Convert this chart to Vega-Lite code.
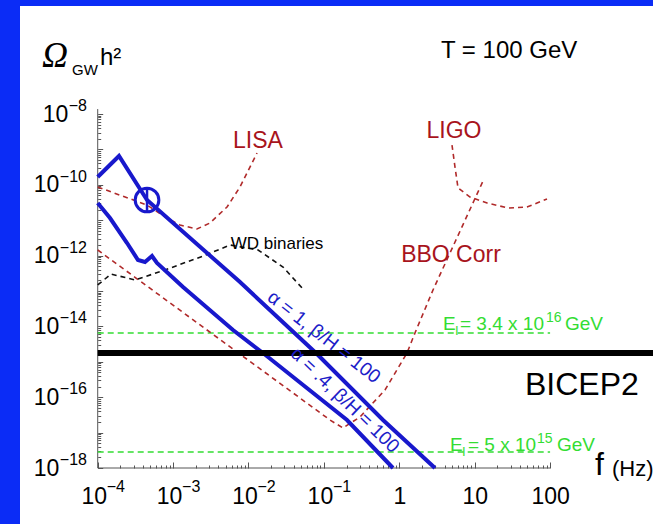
{
  "$schema": "https://vega.github.io/schema/vega-lite/v6.json",
  "width": 633,
  "height": 518,
  "autosize": {"type": "none"},
  "padding": {"left": 20, "top": 6, "right": 0, "bottom": 0},
  "background": "#0b2cf6",
  "config": {"view": {"fill": "white", "stroke": null}},
  "datasets": {
    "axislines": [
      {"f": 0.0001, "f2": 100, "om": 1e-18, "om2": 1e-18},
      {"f": 0.0001, "f2": 0.0001, "om": 1e-18, "om2": 1.38e-8}
    ],
    "exponents": [
      {"ax": "x", "f": 0.0001, "om": 1e-18, "text": "−4"},
      {"ax": "x", "f": 0.001, "om": 1e-18, "text": "−3"},
      {"ax": "x", "f": 0.01, "om": 1e-18, "text": "−2"},
      {"ax": "x", "f": 0.1, "om": 1e-18, "text": "−1"},
      {"ax": "y", "f": 0.0001, "om": 1e-8, "text": "−8"},
      {"ax": "y", "f": 0.0001, "om": 1e-10, "text": "−10"},
      {"ax": "y", "f": 0.0001, "om": 1e-12, "text": "−12"},
      {"ax": "y", "f": 0.0001, "om": 1e-14, "text": "−14"},
      {"ax": "y", "f": 0.0001, "om": 1e-16, "text": "−16"},
      {"ax": "y", "f": 0.0001, "om": 1e-18, "text": "−18"}
    ],
    "hlines": [
      {"kind": "E1", "f": 0.0001, "f2": 100, "om": 6.52e-15},
      {"kind": "E2", "f": 0.0001, "f2": 100, "om": 2.83e-18},
      {"kind": "BICEP2", "f": 0.0001, "f2": 10000, "om": 1.77e-15}
    ],
    "curves": [
      {"series": "a1", "f": 0.0001, "om": 1.66e-10},
      {"series": "a1", "f": 0.0001916, "om": 6.52e-10},
      {"series": "a1", "f": 0.000451, "om": 3.72e-11},
      {"series": "a1", "f": 0.00771, "om": 1.79e-13},
      {"series": "a1", "f": 0.081, "om": 1.66e-15},
      {"series": "a1", "f": 0.608, "om": 2.27e-17},
      {"series": "a1", "f": 2.97, "om": 1e-18},
      {"series": "a04", "f": 0.0001, "om": 3.06e-11},
      {"series": "a04", "f": 0.0001456, "om": 1.15e-11},
      {"series": "a04", "f": 0.000245, "om": 2.27e-12},
      {"series": "a04", "f": 0.000342, "om": 7.52e-13},
      {"series": "a04", "f": 0.000424, "om": 6.59e-13},
      {"series": "a04", "f": 0.000525, "om": 9.75e-13},
      {"series": "a04", "f": 0.000611, "om": 6.18e-13},
      {"series": "a04", "f": 0.001353, "om": 1.3e-13},
      {"series": "a04", "f": 0.00623, "om": 7.91e-15},
      {"series": "a04", "f": 0.01555, "om": 1.77e-15},
      {"series": "a04", "f": 0.2024, "om": 2.27e-17},
      {"series": "a04", "f": 0.824, "om": 1e-18},
      {"series": "LISA", "f": 0.0001, "om": 8.67e-11},
      {"series": "LISA", "f": 0.000451, "om": 2.69e-11},
      {"series": "LISA", "f": 0.00083, "om": 1.15e-11},
      {"series": "LISA", "f": 0.001235, "om": 7.31e-12},
      {"series": "LISA", "f": 0.00207, "om": 5.64e-12},
      {"series": "LISA", "f": 0.00308, "om": 8.34e-12},
      {"series": "LISA", "f": 0.00519, "om": 2.36e-11},
      {"series": "LISA", "f": 0.00771, "om": 8.67e-11},
      {"series": "LISA", "f": 0.01297, "om": 7.91e-10},
      {"series": "BBO", "f": 0.0001, "om": 1.44e-12},
      {"series": "BBO", "f": 0.1205, "om": 2.27e-17},
      {"series": "BBO", "f": 0.179, "om": 1.35e-17},
      {"series": "BBO", "f": 0.301, "om": 2.76e-17},
      {"series": "BBO", "f": 0.646, "om": 1.6e-16},
      {"series": "BBO", "f": 1.265, "om": 1.77e-15},
      {"series": "BBO", "f": 1.614, "om": 6.52e-15},
      {"series": "BBO", "f": 2.8, "om": 1.07e-13},
      {"series": "BBO", "f": 12.9, "om": 1.28e-10},
      {"series": "LIGO", "f": 5.0, "om": 1.33e-9},
      {"series": "LIGO", "f": 5.48, "om": 3.18e-10},
      {"series": "LIGO", "f": 6.01, "om": 8.13e-11},
      {"series": "LIGO", "f": 8.67, "om": 4.52e-11},
      {"series": "LIGO", "f": 14.6, "om": 3.06e-11},
      {"series": "LIGO", "f": 27.7, "om": 2.21e-11},
      {"series": "LIGO", "f": 49.4, "om": 2.36e-11},
      {"series": "LIGO", "f": 91.0, "om": 3.97e-11},
      {"series": "WD", "f": 0.0001, "om": 1.48e-13},
      {"series": "WD", "f": 0.00015, "om": 3.02e-13},
      {"series": "WD", "f": 0.000313, "om": 2.05e-13},
      {"series": "WD", "f": 0.000782, "om": 3.92e-13},
      {"series": "WD", "f": 0.0025, "om": 9.75e-13},
      {"series": "WD", "f": 0.00569, "om": 1.99e-12},
      {"series": "WD", "f": 0.0134, "om": 1.44e-12},
      {"series": "WD", "f": 0.0287, "om": 4.76e-13},
      {"series": "WD", "f": 0.0513, "om": 1.22e-13}
    ],
    "marker": [{"f": 0.000451, "om": 3.72e-11}],
    "notes": [
      {"id": "Omega", "text": "Ω", "f": 1.825e-5, "om": 2.13e-7},
      {"id": "GW", "text": "GW", "f": 4.56e-5, "om": 1.265e-7},
      {"id": "h2", "text": "h²", "f": 0.0001073, "om": 2.42e-7},
      {"id": "T", "text": "T = 100 GeV", "f": 3.57, "om": 3.82e-7},
      {"id": "det", "text": "LISA", "f": 0.01336, "om": 1.73e-9},
      {"id": "det", "text": "LIGO", "f": 5.32, "om": 3.31e-9},
      {"id": "det", "text": "BBO Corr", "f": 4.85, "om": 1.04e-12},
      {"id": "wd", "text": "WD binaries", "f": 0.0239, "om": 2.13e-12},
      {"id": "bicep", "text": "BICEP2", "f": 46.5, "om": 1.153e-16},
      {"id": "fsym", "text": "f", "f": 394, "om": 6.34e-19},
      {"id": "fHz", "text": "(Hz)", "f": 662, "om": 5.94e-19},
      {"id": "E", "text": "E", "f": 3.8, "om": 7.91e-15},
      {"id": "Emain", "text": "= 3.4 x 10", "f": 6.38, "om": 7.91e-15},
      {"id": "Esup", "text": "16", "f": 88.2, "om": 7.91e-15},
      {"id": "Emain", "text": "GeV", "f": 157.6, "om": 7.91e-15},
      {"id": "E", "text": "E", "f": 4.7, "om": 3.02e-18},
      {"id": "Emain", "text": "= 5 x 10", "f": 8.15, "om": 3.02e-18},
      {"id": "Esup", "text": "15", "f": 67.0, "om": 3.02e-18},
      {"id": "Emain", "text": "GeV", "f": 123.4, "om": 3.02e-18},
      {"id": "alpha1", "text": "α = 1, β/H = 100", "f": 0.1003, "om": 5.02e-15},
      {"id": "alpha04", "text": "α = .4, β/H = 100", "f": 0.1905, "om": 8.34e-17}
    ]
  },
  "encoding": {
    "x": {
      "field": "f", "type": "quantitative",
      "scale": {"type": "log", "domain": [9.32e-6, 2317], "nice": false},
      "axis": {
        "orient": "bottom", "offset": -56, "domain": false, "grid": false, "title": null,
        "values": [0.0001,0.0002,0.0003,0.0004,0.0005,0.0006,0.0007,0.0008,0.0009,0.001,0.002,0.003,0.004,0.005,0.006,0.007,0.008,0.009,0.01,0.02,0.03,0.04,0.05,0.06,0.07,0.08,0.09,0.1,0.2,0.3,0.4,0.5,0.6,0.7,0.8,0.9,1,2,3,4,5,6,7,8,9,10,20,30,40,50,60,70,80,90,100],
        "tickSize": {"condition": {"test": "abs(log(datum.value)/LN10 - round(log(datum.value)/LN10)) < 0.01", "value": -6}, "value": -3},
        "tickColor": "#555555", "tickWidth": 1,
        "labelExpr": "abs(log(datum.value)/LN10 - round(log(datum.value)/LN10)) > 0.01 ? '' : round(log(datum.value)/LN10) < 0 ? '10' : round(log(datum.value)/LN10) == 0 ? '1' : round(log(datum.value)/LN10) == 1 ? '10' : '100'",
        "labelOffset": {"condition": {"test": "datum.value < 0.5", "value": -4}, "value": 0},
        "labelFont": "Liberation Sans", "labelFontSize": 23, "labelColor": "#000000",
        "labelBaseline": "alphabetic", "labelAlign": "center", "labelPadding": 41,
        "labelOverlap": false, "labelFlush": false, "labelBound": false
      }
    },
    "y": {
      "field": "om", "type": "quantitative",
      "scale": {"type": "log", "domain": [2.62e-20, 1.125e-5], "nice": false},
      "axis": {
        "orient": "left", "offset": -77.7, "domain": false, "grid": false, "title": null,
        "values": [1e-18,2e-18,3e-18,4e-18,5e-18,6e-18,7e-18,8e-18,9e-18,1e-17,2e-17,3e-17,4e-17,5e-17,6e-17,7e-17,8e-17,9e-17,1e-16,2e-16,3e-16,4e-16,5e-16,6e-16,7e-16,8e-16,9e-16,1e-15,2e-15,3e-15,4e-15,5e-15,6e-15,7e-15,8e-15,9e-15,1e-14,2e-14,3e-14,4e-14,5e-14,6e-14,7e-14,8e-14,9e-14,1e-13,2e-13,3e-13,4e-13,5e-13,6e-13,7e-13,8e-13,9e-13,1e-12,2e-12,3e-12,4e-12,5e-12,6e-12,7e-12,8e-12,9e-12,1e-11,2e-11,3e-11,4e-11,5e-11,6e-11,7e-11,8e-11,9e-11,1e-10,2e-10,3e-10,4e-10,5e-10,6e-10,7e-10,8e-10,9e-10,1e-9,2e-9,3e-9,4e-9,5e-9,6e-9,7e-9,8e-9,9e-9,1e-8],
        "tickSize": {"condition": {"test": "abs(log(datum.value)/LN10 - round(log(datum.value)/LN10)) < 0.01", "value": -5}, "value": -3},
        "tickColor": "#555555", "tickWidth": 1,
        "labelExpr": "abs(log(datum.value)/LN10 - round(log(datum.value)/LN10)) > 0.01 ? '' : (round(log(datum.value)/LN10) % 2 == 0 && round(log(datum.value)/LN10) >= -18 && round(log(datum.value)/LN10) <= -8) ? '10' : ''",
        "labelPadding": {"condition": {"test": "datum.value > 5e-9", "value": 34.9}, "value": 43.8},
        "labelFont": "Liberation Sans", "labelFontSize": 23, "labelColor": "#000000",
        "labelBaseline": "middle", "labelAlign": "right",
        "labelOverlap": false, "labelFlush": false, "labelBound": false
      }
    }
  },
  "layer": [
    {
      "data": {"name": "axislines"},
      "mark": {"type": "rule", "color": "#555555", "strokeWidth": 1},
      "encoding": {
        "x2": {"field": "f2"},
        "y2": {"field": "om2"}
      }
    },
    {
      "data": {"name": "exponents"},
      "transform": [{"filter": "datum.ax == 'x'"}],
      "mark": {"type": "text", "font": "Liberation Sans", "fontSize": 16, "align": "left", "baseline": "alphabetic", "color": "#000000", "dx": 9, "dy": 24},
      "encoding": {"text": {"field": "text"}}
    },
    {
      "data": {"name": "exponents"},
      "transform": [{"filter": "datum.ax == 'y'"}],
      "mark": {"type": "text", "font": "Liberation Sans", "fontSize": 16, "align": "right", "baseline": "middle", "color": "#000000", "dx": -10.7, "dy": -8},
      "encoding": {"text": {"field": "text"}}
    },
    {
      "data": {"name": "hlines"},
      "transform": [{"filter": "datum.kind != 'BICEP2'"}],
      "mark": {"type": "rule", "color": "#33dd33", "strokeWidth": 1.6, "strokeDash": [6, 4]},
      "encoding": {
        "x2": {"field": "f2"}
      }
    },
    {
      "data": {"name": "curves"},
      "transform": [{"filter": "datum.series == 'LISA' || datum.series == 'BBO' || datum.series == 'LIGO'"}],
      "mark": {"type": "line", "color": "#b02a2a", "strokeWidth": 1.6, "strokeDash": [5, 4]},
      "encoding": {
        "detail": {"field": "series"}
      }
    },
    {
      "data": {"name": "curves"},
      "transform": [{"filter": "datum.series == 'WD'"}],
      "mark": {"type": "line", "color": "#111111", "strokeWidth": 1.6, "strokeDash": [5, 4]},
      "encoding": {}
    },
    {
      "data": {"name": "curves"},
      "transform": [{"filter": "datum.series == 'a1' || datum.series == 'a04'"}],
      "mark": {"type": "line", "color": "#1818cc", "strokeWidth": 4, "strokeJoin": "miter"},
      "encoding": {
        "detail": {"field": "series"}
      }
    },
    {
      "data": {"name": "marker"},
      "mark": {"type": "point", "shape": "circle", "size": 560, "filled": false, "color": "#1818cc", "strokeWidth": 3, "opacity": 1},
      "encoding": {}
    },
    {
      "data": {"name": "marker"},
      "mark": {"type": "point", "shape": "M0,-1L0,1", "size": 500, "filled": false, "color": "#1818cc", "strokeWidth": 2.5, "opacity": 1},
      "encoding": {}
    },
    {
      "data": {"name": "hlines"},
      "transform": [{"filter": "datum.kind == 'BICEP2'"}],
      "mark": {"type": "rule", "color": "#000000", "strokeWidth": 6, "clip": true},
      "encoding": {
        "x2": {"field": "f2"}
      }
    },
    {
      "data": {"name": "notes"},
      "transform": [{"filter": "datum.id == 'Omega'"}],
      "mark": {"type": "text", "font": "Liberation Serif", "fontStyle": "italic", "fontSize": 36, "align": "left", "baseline": "alphabetic", "color": "#000000"},
      "encoding": {"text": {"field": "text"}}
    },
    {
      "data": {"name": "notes"},
      "transform": [{"filter": "datum.id == 'GW'"}],
      "mark": {"type": "text", "font": "Liberation Sans", "fontSize": 15, "align": "left", "baseline": "alphabetic", "color": "#000000"},
      "encoding": {"text": {"field": "text"}}
    },
    {
      "data": {"name": "notes"},
      "transform": [{"filter": "datum.id == 'h2' || datum.id == 'T'"}],
      "mark": {"type": "text", "font": "Liberation Sans", "fontSize": 24, "align": "left", "baseline": "alphabetic", "color": "#000000"},
      "encoding": {"text": {"field": "text"}}
    },
    {
      "data": {"name": "notes"},
      "transform": [{"filter": "datum.id == 'det'"}],
      "mark": {"type": "text", "font": "Liberation Sans", "fontSize": 23, "align": "center", "baseline": "middle", "color": "#a8141c"},
      "encoding": {"text": {"field": "text"}}
    },
    {
      "data": {"name": "notes"},
      "transform": [{"filter": "datum.id == 'wd'"}],
      "mark": {"type": "text", "font": "Liberation Sans", "fontSize": 17, "align": "center", "baseline": "middle", "color": "#000000"},
      "encoding": {"text": {"field": "text"}}
    },
    {
      "data": {"name": "notes"},
      "transform": [{"filter": "datum.id == 'bicep' || datum.id == 'fsym'"}],
      "mark": {"type": "text", "font": "Liberation Sans", "fontSize": 32, "align": "left", "baseline": "alphabetic", "color": "#000000"},
      "encoding": {"text": {"field": "text"}}
    },
    {
      "data": {"name": "notes"},
      "transform": [{"filter": "datum.id == 'fHz'"}],
      "mark": {"type": "text", "font": "Liberation Sans", "fontSize": 22, "align": "left", "baseline": "alphabetic", "color": "#000000"},
      "encoding": {"text": {"field": "text"}}
    },
    {
      "data": {"name": "notes"},
      "transform": [{"filter": "datum.id == 'E' || datum.id == 'Emain'"}],
      "mark": {"type": "text", "font": "Liberation Sans", "fontSize": 19, "align": "left", "baseline": "alphabetic", "color": "#33dd33"},
      "encoding": {"text": {"field": "text"}}
    },
    {
      "data": {"name": "notes"},
      "transform": [{"filter": "datum.id == 'E'"}],
      "mark": {"type": "text", "font": "Liberation Sans", "fontSize": 13, "align": "left", "baseline": "alphabetic", "color": "#33dd33", "dx": 12, "dy": 5},
      "encoding": {"text": {"value": "I"}}
    },
    {
      "data": {"name": "notes"},
      "transform": [{"filter": "datum.id == 'Esup'"}],
      "mark": {"type": "text", "font": "Liberation Sans", "fontSize": 14, "align": "left", "baseline": "alphabetic", "color": "#33dd33", "dy": -8},
      "encoding": {"text": {"field": "text"}}
    },
    {
      "data": {"name": "notes"},
      "transform": [{"filter": "datum.id == 'alpha1'"}],
      "mark": {"type": "text", "font": "Liberation Sans", "fontSize": 19, "align": "center", "baseline": "middle", "color": "#1c1cc8", "angle": 38},
      "encoding": {"text": {"field": "text"}}
    },
    {
      "data": {"name": "notes"},
      "transform": [{"filter": "datum.id == 'alpha04'"}],
      "mark": {"type": "text", "font": "Liberation Sans", "fontSize": 19, "align": "center", "baseline": "middle", "color": "#1c1cc8", "angle": 44},
      "encoding": {"text": {"field": "text"}}
    }
  ]
}
